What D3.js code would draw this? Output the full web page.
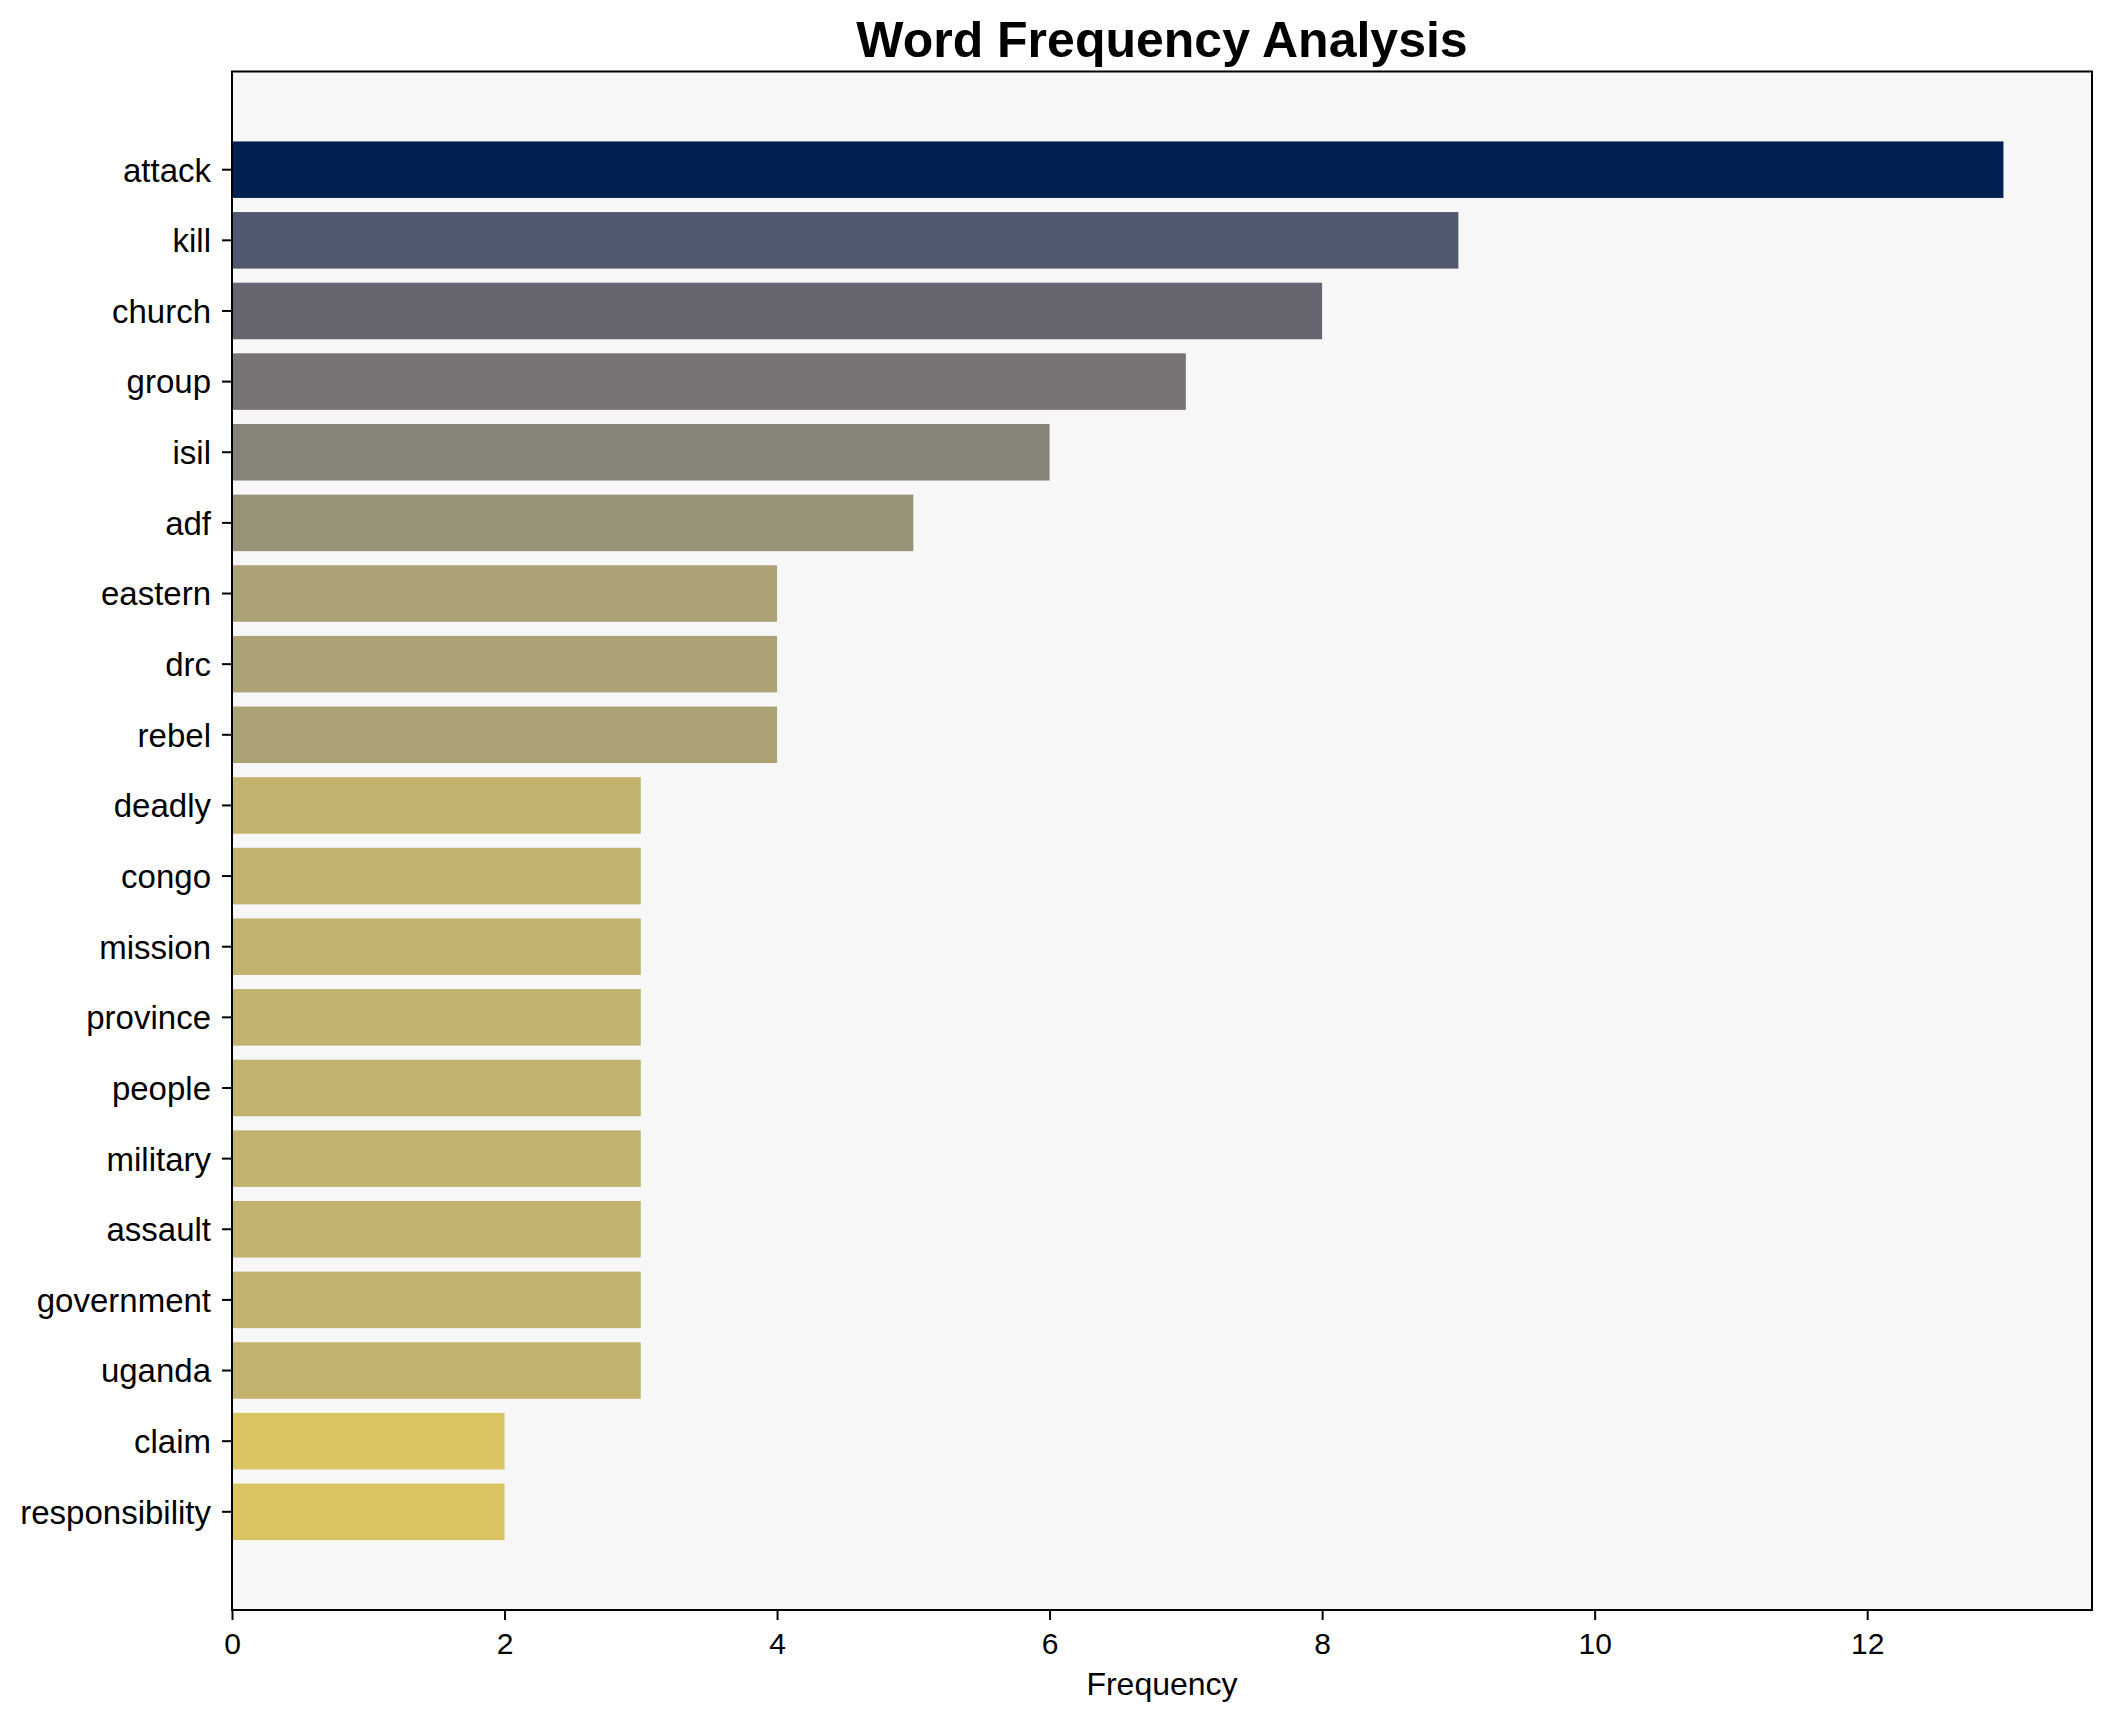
<!DOCTYPE html>
<html>
<head>
<meta charset="utf-8">
<script src="https://cdn.jsdelivr.net/npm/d3@7"></script>
<style>
  html, body { margin: 0; padding: 0; background: #ffffff; }
  svg { display: block; }
  text { font-family: "Liberation Sans", Arial, "DejaVu Sans", sans-serif; fill: #000; }
</style>
</head>
<body>
<svg id="chart" width="2112" height="1722"></svg>
<script>
const words = ["attack","kill","church","group","isil","adf","eastern","drc","rebel","deadly","congo","mission","province","people","military","assault","government","uganda","claim","responsibility"];
const frequencies = [13,9,8,7,6,5,4,4,4,3,3,3,3,3,3,3,3,3,2,2];
const xTicks = [0,2,4,6,8,10,12];
const titleText = "Word Frequency Analysis";
const xLabelText = "Frequency";

(function () {
const W = 2112, H = 1722;
const pLeft = 232, pRight = 2092, pTop = 71.5, pBottom = 1610;
const maxV = d3.max(frequencies);

const svg = d3.select("#chart");
svg.append("rect").attr("x",0).attr("y",0).attr("width",W).attr("height",H).attr("fill","#ffffff");

const x = d3.scaleLinear().domain([0, maxV * 1.05]).range([pLeft, pRight]);
const y = d3.scaleBand().domain(words).range([pTop, pBottom]).paddingInner(0.2).paddingOuter(0.99);
const color = v => d3.interpolateCividis(1 - v / maxV);

svg.append("rect").attr("x", pLeft).attr("y", pTop).attr("width", pRight-pLeft).attr("height", pBottom-pTop).attr("fill", "#f7f7f7");

svg.append("g").selectAll("rect").data(words).join("rect")
  .attr("x", x(0))
  .attr("y", d => y(d))
  .attr("width", (d,i) => x(frequencies[i]) - x(0))
  .attr("height", y.bandwidth())
  .attr("fill", (d,i) => color(frequencies[i]));

const xAxis = d3.axisBottom(x).tickValues(xTicks).tickFormat(d3.format("d")).tickSize(10).tickPadding(13);
const gx = svg.append("g").attr("transform", `translate(0,${pBottom})`).call(xAxis);
gx.select(".domain").remove();
gx.selectAll(".tick line").attr("stroke","#000").attr("stroke-width",2);
gx.selectAll(".tick text").attr("font-size", 30).attr("font-family", '"Liberation Sans", Arial, sans-serif');

const yAxis = d3.axisLeft(y).tickSize(10).tickPadding(11);
const gy = svg.append("g").attr("transform", `translate(${pLeft},0)`).call(yAxis);
gy.select(".domain").remove();
gy.selectAll(".tick line").attr("stroke","#000").attr("stroke-width",2);
gy.selectAll(".tick text").attr("font-size", 33).attr("dy", "0.36em").attr("font-family", '"Liberation Sans", Arial, sans-serif');

svg.append("rect").attr("x", pLeft).attr("y", pTop).attr("width", pRight-pLeft).attr("height", pBottom-pTop)
  .attr("fill","none").attr("stroke","#000").attr("stroke-width",2);

svg.append("text").attr("x", (pLeft+pRight)/2).attr("y", 57).attr("text-anchor","middle")
  .attr("font-size", 50).attr("font-weight","bold").text(titleText);

svg.append("text").attr("x", (pLeft+pRight)/2).attr("y", 1695).attr("text-anchor","middle")
  .attr("font-size", 32).text(xLabelText);
})();
</script>
</body>
</html>
